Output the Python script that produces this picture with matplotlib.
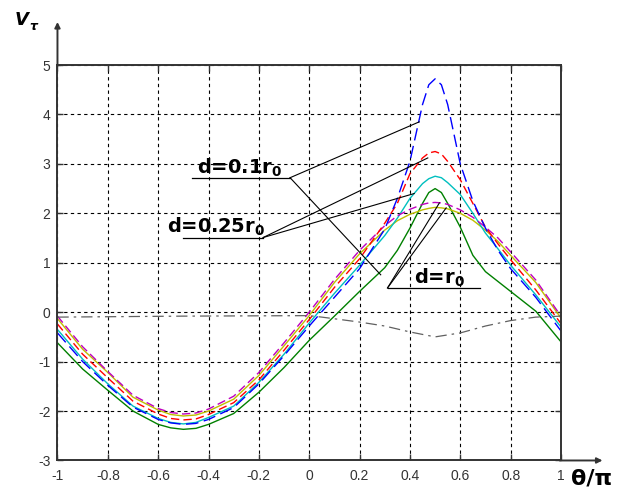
import matplotlib
matplotlib.use("Agg")
import matplotlib.pyplot as plt

# angle theta/pi at which the curves were read
theta = [-1, -0.9, -0.8, -0.7, -0.6, -0.55, -0.5, -0.45, -0.4, -0.3, -0.2, -0.1, 0, 0.1, 0.2,
         0.3, 0.35, 0.4, 0.45, 0.475, 0.5, 0.525, 0.55, 0.6, 0.65, 0.7, 0.75, 0.8, 0.9, 1.0]

# V_tau curves
v_blue = [-0.42, -1.0, -1.48, -1.92, -2.17, -2.24, -2.27, -2.25, -2.17, -1.93, -1.45, -0.88, -0.28,
          0.3, 0.88, 1.68, 2.3, 3.05, 4.2, 4.6, 4.72, 4.6, 4.2, 3.0, 2.25, 1.7, 1.25, 0.88, 0.3, -0.38]
v_red = [-0.24, -0.85, -1.33, -1.8, -2.06, -2.15, -2.18, -2.16, -2.07, -1.83, -1.37, -0.77, -0.15,
         0.5, 1.08, 1.8, 2.2, 2.8, 3.12, 3.22, 3.25, 3.2, 3.05, 2.68, 2.2, 1.72, 1.38, 1.06, 0.45, -0.23]
v_cyan = [-0.35, -0.95, -1.45, -1.9, -2.15, -2.23, -2.26, -2.23, -2.13, -1.9, -1.42, -0.85, -0.22,
          0.38, 0.95, 1.55, 1.9, 2.3, 2.6, 2.7, 2.75, 2.72, 2.62, 2.38, 2.0, 1.6, 1.28, 0.95, 0.35, -0.3]
v_green = [-0.62, -1.15, -1.58, -2.0, -2.27, -2.34, -2.37, -2.35, -2.27, -2.05, -1.62, -1.12, -0.57,
           -0.08, 0.42, 0.9, 1.25, 1.7, 2.2, 2.42, 2.5, 2.42, 2.2, 1.72, 1.15, 0.82, 0.62, 0.42, 0.02, -0.6]
v_magenta = [-0.08, -0.7, -1.2, -1.68, -1.95, -2.03, -2.06, -2.04, -1.96, -1.7, -1.22, -0.62, 0.0,
             0.66, 1.25, 1.75, 1.95, 2.08, 2.18, 2.21, 2.22, 2.21, 2.18, 2.07, 1.92, 1.72, 1.5, 1.22,
             0.65, -0.08]
v_yellow = [-0.13, -0.75, -1.22, -1.72, -1.98, -2.07, -2.1, -2.08, -2.0, -1.76, -1.28, -0.68, -0.07,
            0.6, 1.18, 1.66, 1.85, 1.98, 2.07, 2.1, 2.12, 2.11, 2.09, 2.0, 1.86, 1.66, 1.43, 1.15,
            0.6, -0.12]

theta_dd = [-1, -0.5, 0, 0.05, 0.2, 0.3, 0.4, 0.5, 0.6, 0.7, 0.8, 0.9, 1.0]
v_dashdot = [-0.1, -0.08, -0.07, -0.1, -0.2, -0.28, -0.4, -0.5, -0.42, -0.28, -0.17, -0.1, -0.08]

xticks = [-1, -0.8, -0.6, -0.4, -0.2, 0, 0.2, 0.4, 0.6, 0.8, 1]
xtick_labels = ["-1", "-0.8", "-0.6", "-0.4", "-0.2", "0", "0.2", "0.4", "0.6", "0.8", "1"]
yticks = [-3, -2, -1, 0, 1, 2, 3, 4, 5]
ytick_labels = ["-3", "-2", "-1", "0", "1", "2", "3", "4", "5"]

# leader labels: text, text anchor, underline x-range, underline y, pointer targets
labels = [r"d=0.1r$_\mathbf{0}$", r"d=0.25r$_\mathbf{0}$", r"d=r$_\mathbf{0}$"]
label_xy = [(-0.444, 2.81), (-0.564, 1.60), (0.416, 0.575)]
under_x = [(-0.467, -0.076), (-0.503, -0.183), (0.311, 0.677)]
under_y = [2.72, 1.51, 0.49]
targets = [[(0.437, 3.85), (0.284, 0.756)],
           [(0.471, 3.12), (0.417, 2.40)],
           [(0.517, 2.21), (0.544, 2.11)]]
pivot_side = [1, 1, 0]

fig = plt.figure(figsize=(6.24, 4.88), dpi=100)
ax = fig.add_axes([0.0921, 0.0564, 0.8069, 0.8104])

ax.plot(theta, v_green, color="#008000", lw=1.0)
ax.plot(theta, v_yellow, color="#bfbf00", lw=1.0)
ax.plot(theta, v_cyan, color="#00bfbf", lw=1.0)
ax.plot(theta, v_magenta, color="#bf00bf", lw=1.0, linestyle=(0, (6, 3)))
ax.plot(theta, v_red, color="#ff0000", lw=1.0, linestyle=(0, (6, 3)))
ax.plot(theta, v_blue, color="#0000ff", lw=1.0, linestyle=(0, (9, 4)))
ax.plot(theta_dd, v_dashdot, color="#606060", lw=0.9, linestyle=(0, (9, 4, 2, 4)))

for i in range(len(labels)):
    x0, x1 = under_x[i]
    ax.plot([x0, x1], [under_y[i], under_y[i]], color="black", lw=0.9)
    px = under_x[i][pivot_side[i]]
    for tx, ty in targets[i]:
        ax.plot([px, tx], [under_y[i], ty], color="black", lw=0.8)
    ax.text(label_xy[i][0], label_xy[i][1], labels[i], fontsize=14, fontweight="bold",
            family="DejaVu Sans", va="baseline", ha="left")

ax.set_xlim(-1, 1)
ax.set_ylim(-3, 5)
ax.set_xticks(xticks)
ax.set_xticklabels(xtick_labels, family="Liberation Sans", fontsize=10, color="#333333")
ax.set_yticks(yticks)
ax.set_yticklabels(ytick_labels, family="Liberation Sans", fontsize=10, color="#333333")
ax.tick_params(direction="in", length=4, width=1, top=True, right=True, color="#333333")
ax.tick_params(axis="x", pad=6)
ax.tick_params(axis="y", pad=5)
ax.set_axisbelow(True)
ax.grid(True, color="black", linestyle=(0, (3, 3)), linewidth=0.8)
for s in ax.spines.values():
    s.set_color("#333333")
    s.set_linewidth(1.4)

# axis arrows
arrow = dict(arrowstyle="-|>", color="#333333", lw=1.4, mutation_scale=8, shrinkA=0, shrinkB=0)
ax.annotate("", xy=(-1, 5.87), xytext=(-1, 4.99), arrowprops=arrow, annotation_clip=False)
ax.annotate("", xy=(1.165, -3), xytext=(0.995, -3), arrowprops=arrow, annotation_clip=False)

fig.text(15 / 624, 1 - 25 / 488, "V", fontsize=13, fontweight="bold", style="italic",
         va="baseline", family="DejaVu Sans")
fig.text(29 / 624, 1 - 30 / 488, "τ", fontsize=9, fontweight="bold", style="italic",
         va="baseline", family="DejaVu Sans")
fig.text(571 / 624, 1 - 485 / 488, "θ/π", fontsize=16, fontweight="bold",
         va="baseline", ha="left", family="DejaVu Sans")

fig.savefig("out.png", dpi=100)
